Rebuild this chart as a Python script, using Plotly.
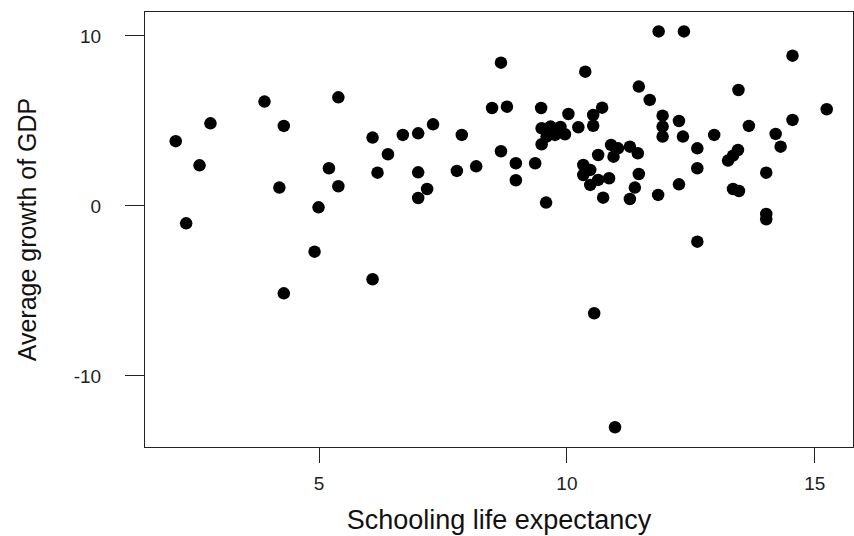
import plotly.graph_objects as go

# Schooling life expectancy (years) per country
schooling = [
    2.11, 2.32, 2.59, 2.81, 3.90, 4.20, 4.29, 4.29, 4.91, 4.99,
    5.20, 5.39, 5.39, 6.08, 6.08, 6.18, 6.39, 6.69, 7.00, 7.00,
    7.00, 7.18, 7.30, 7.78, 7.88, 8.17, 8.49, 8.67, 8.67, 8.79,
    8.97, 8.97, 9.36, 9.48, 9.49, 9.49, 9.58, 9.59, 9.67, 9.76,
    9.87, 9.96, 10.03, 10.23, 10.37, 10.53, 10.53, 10.71, 10.89, 10.63,
    11.03, 10.33, 10.33, 10.47, 10.63, 10.85, 10.73, 10.47, 10.55, 10.97,
    10.94, 11.27, 11.43, 11.45, 11.45, 11.37, 11.27, 11.67, 11.85, 11.84,
    11.93, 11.93, 11.93, 12.26, 12.34, 12.36, 12.26, 12.63, 12.63, 12.63,
    12.97, 13.25, 13.35, 13.45, 13.35, 13.47, 13.46, 13.67, 14.02, 14.02,
    14.02, 14.21, 14.31, 14.55, 14.55, 15.24,
]

# Average growth of GDP (%) per country
gdp_growth = [
    3.81, -1.02, 2.39, 4.86, 6.14, 1.08, 4.71, -5.14, -2.69, -0.08,
    2.22, 6.39, 1.16, 4.02, -4.31, 1.96, 3.04, 4.18, 4.27, 1.98,
    0.47, 1.00, 4.80, 2.06, 4.18, 2.33, 5.76, 8.43, 3.22, 5.84,
    2.51, 1.51, 2.51, 5.76, 4.57, 3.63, 0.20, 4.08, 4.67, 4.18,
    4.65, 4.22, 5.41, 4.63, 7.90, 5.35, 4.72, 5.78, 3.59, 3.00,
    3.39, 2.41, 1.82, 1.24, 1.53, 1.63, 0.49, 2.12, -6.31, -13.02,
    2.90, 3.49, 3.10, 7.02, 1.88, 1.08, 0.41, 6.24, 10.27, 0.65,
    5.31, 4.67, 4.08, 5.00, 4.08, 10.27, 1.27, 3.39, 2.22, -2.10,
    4.18, 2.67, 2.96, 3.29, 1.00, 0.88, 6.82, 4.71, 1.96, -0.47,
    -0.78, 4.24, 3.49, 8.84, 5.06, 5.69,
]

x_ticks = [5, 10, 15]
y_ticks = [-10, 0, 10]

FONT = "Liberation Sans, Arial, sans-serif"

fig = go.Figure(
    go.Scatter(
        x=schooling,
        y=gdp_growth,
        mode="markers",
        marker=dict(color="black", size=12.5, line=dict(width=0)),
        hoverinfo="x+y",
    )
)

axis_common = dict(
    showline=True,
    linecolor="#222222",
    linewidth=1,
    mirror=True,
    ticks="outside",
    tickwidth=1,
    tickcolor="#222222",
    showgrid=False,
    zeroline=False,
    tickfont=dict(family=FONT, size=19, color="#222222"),
)

fig.update_layout(
    width=854,
    height=536,
    margin=dict(l=145, r=1, t=12, b=89),
    plot_bgcolor="white",
    paper_bgcolor="white",
    showlegend=False,
    xaxis=dict(
        axis_common,
        range=[1.49, 15.77],
        tickvals=x_ticks,
        ticktext=[str(v) for v in x_ticks],
        ticklen=15,
        ticklabelstandoff=4,
        title=dict(
            text="Schooling life expectancy",
            font=dict(family=FONT, size=27, color="#111111"),
            standoff=17,
        ),
    ),
    yaxis=dict(
        axis_common,
        range=[-14.18, 11.41],
        tickvals=y_ticks,
        ticktext=[str(v) for v in y_ticks],
        ticklen=19,
        ticklabelstandoff=20,
        title=dict(
            text="Average growth of GDP",
            font=dict(family=FONT, size=25, color="#111111"),
            standoff=29,
        ),
    ),
)

fig.write_html("out.html")
